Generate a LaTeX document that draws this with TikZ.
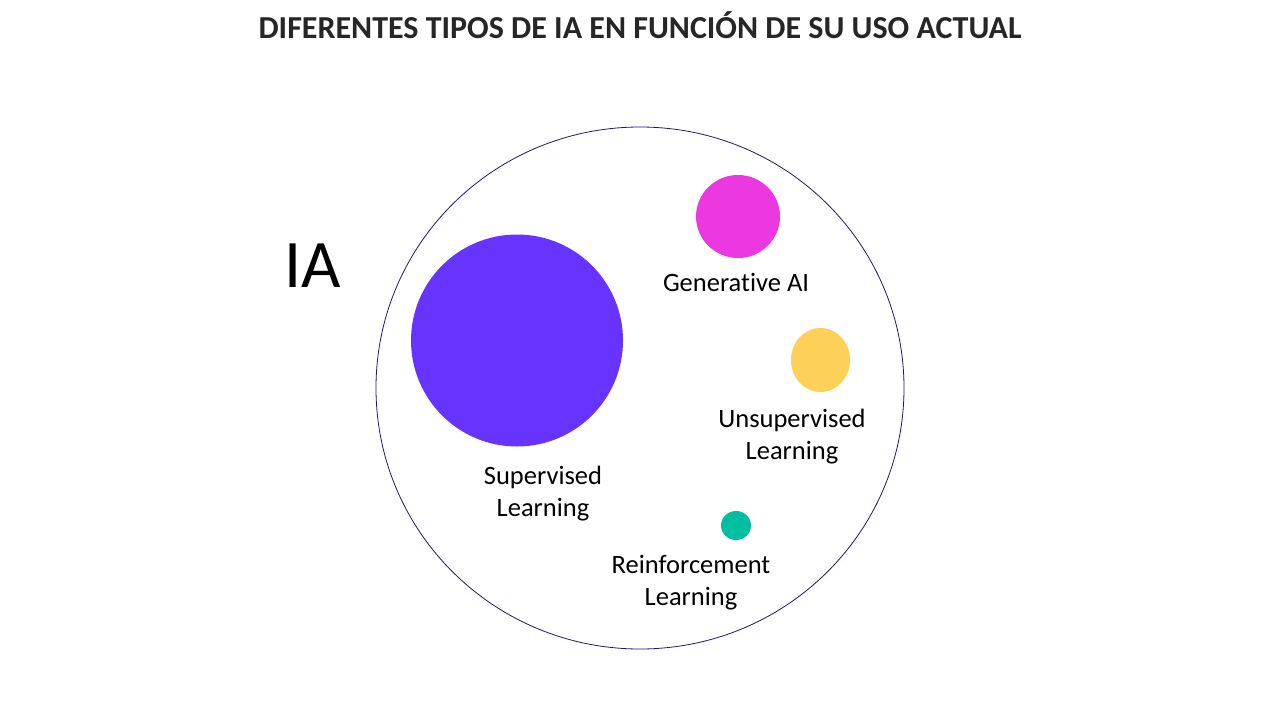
\documentclass[tikz,border=0pt]{standalone}
\usepackage{fontspec}
\setmainfont{Carlito}[RawFeature={-liga}]
\definecolor{supcol}{HTML}{6633FF}
\definecolor{gencol}{HTML}{EC38E0}
\definecolor{unscol}{HTML}{FDD05A}
\definecolor{reicol}{HTML}{00BFA0}
\definecolor{ringcol}{HTML}{1F1A6B}
\definecolor{txtcol}{HTML}{262626}
\tikzset{
  blob/.style={fill=#1, draw=none},
  lbl/.style={font=\fontsize{26.5}{32}\selectfont, align=center, inner sep=0pt, text=black},
}
\begin{document}
\begin{tikzpicture}[x=1pt,y=-1pt]
\useasboundingbox (0,0) rectangle (1280,720);
\fill[white] (0,0) rectangle (1280,720);
\node[font=\bfseries\fontsize{32}{36}\selectfont, text=txtcol, inner sep=0pt] (title) at (640,25) {DIFERENTES TIPOS DE IA EN FUNCIÓN DE SU USO ACTUAL};
\draw[ringcol, line width=0.8pt] (640,388) ellipse [x radius=264, y radius=261];
\node[font=\fontsize{68}{72}\selectfont, inner sep=0pt] (ia) at (313,266) {IA};
\fill[blob=supcol] (517,340.5) circle [radius=106];
\fill[blob=gencol] (738,216.5) ellipse [x radius=42, y radius=41.5];
\fill[blob=unscol] (820.5,360) ellipse [x radius=29.5, y radius=32];
\fill[blob=reicol] (736,525.5) ellipse [x radius=15, y radius=14.5];
\node[lbl] (gen) at (736,282) {Generative AI};
\node[lbl] (sup) at (543,494) {Supervised\\ Learning};
\node[lbl] (uns) at (792,437) {Unsupervised\\Learning};
\node[lbl] (rei) at (691,583) {Reinforcement\\Learning};
\end{tikzpicture}
\end{document}
